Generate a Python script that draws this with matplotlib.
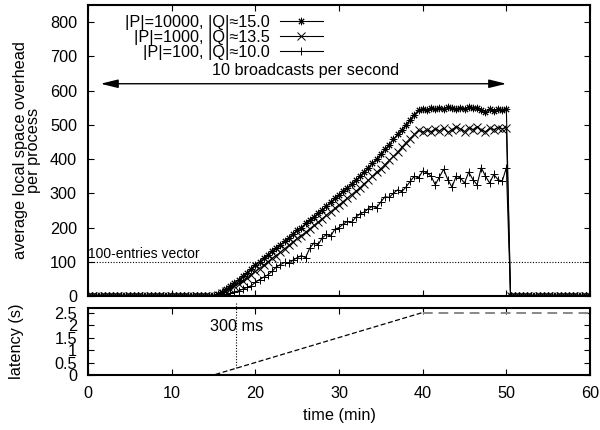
import numpy as np
import matplotlib as mpl
mpl.use('Agg')
import matplotlib.pyplot as plt  # noqa

plt.rcParams['font.family'] = ['Liberation Sans', 'DejaVu Sans']
plt.rcParams['font.size'] = 11.7

# time axis, one sample every 30 s
t = np.arange(0, 60.01, 0.5)

# space overhead per process (entries)
zeros_before = [0, 0, 0, 0, 0, 0, 0, 0, 0, 0, 0, 0, 0, 0, 0, 0, 0, 0, 0, 0,
                0, 0, 0, 0, 0, 0, 0, 0, 0, 0, 0]          # t = 0 .. 15
zeros_after = [0, 0, 0, 0, 0, 0, 0, 0, 0, 0, 0, 0, 0, 0, 0, 0, 0, 0, 0, 0]
# t = 15.5 .. 50
p10000 = [5, 12, 20, 28, 38, 48, 58, 68, 80, 92,
          100, 112, 120, 132, 140, 150, 160, 170, 182, 192,
          200, 212, 222, 232, 242, 252, 262, 275, 285, 295,
          306, 316, 328, 338, 350, 362, 375, 388, 400, 415,
          428, 442, 458, 472, 486, 500, 515, 530, 543,
          546, 544, 548, 545, 550, 546, 552, 548, 545, 550,
          547, 553, 548, 550, 544, 538, 545, 540, 546, 543, 545]
p1000 = [3, 8, 14, 20, 28, 36, 44, 52, 62, 72,
         80, 90, 100, 110, 118, 128, 138, 148, 158, 168,
         176, 186, 196, 206, 216, 226, 236, 246, 256, 266,
         276, 286, 296, 306, 316, 328, 338, 350, 362, 372,
         384, 396, 408, 420, 434, 448, 460, 472, 484,
         478, 485, 480, 488, 482, 490, 478, 485, 495, 488,
         480, 492, 486, 495, 485, 480, 490, 486, 492, 488, 492]
p100 = [0, 3, 5, 8, 12, 15, 20, 25, 30, 40,
        48, 55, 62, 72, 85, 92, 98, 95, 105, 112,
        118, 112, 140, 155, 150, 170, 180, 175, 195, 200,
        210, 218, 215, 230, 240, 245, 255, 262, 258, 275,
        290, 288, 300, 310, 305, 318, 335, 350, 345,
        365, 360, 350, 325, 348, 370, 340, 318, 350, 345,
        330, 362, 340, 325, 375, 350, 330, 355, 340, 335, 375]

series = [
    ('|P|=10000, |Q|≈15.0', p10000, (8, 2, 0)),
    ('|P|=1000, |Q|≈13.5', p1000, 'x'),
    ('|P|=100, |Q|≈10.0', p100, '+'),
]

# latency (s)
lat_t = [0, 15, 40]
lat_v = [0, 0, 2.5]
lat_flat_t = [40, 60]
lat_flat_v = [2.5, 2.5]

fig = plt.figure(figsize=(6, 4.3), dpi=100)
ax = fig.add_axes([0.1467, 0.3116, 0.8367, 0.6768])
ax2 = fig.add_axes([0.1467, 0.1279, 0.8367, 0.1558])

for label, vals, mk in series:
    y = zeros_before + vals + zeros_after
    ax.plot(t, y, color='black', lw=0.8, marker=mk, ms=5.3, mew=0.7,
            label=label)

ax.axhline(100, color='black', lw=0.8, ls=(0, (1, 1.5)))
ax.text(0.0, 103, '100-entries vector', fontsize=10, ha='left', va='bottom')

ax.annotate('', xy=(1.5, 620), xytext=(50, 620),
            arrowprops=dict(arrowstyle='<|-|>,head_length=0.9,head_width=0.22',
                            color='black', lw=1.0, shrinkA=0, shrinkB=0))
ax.text(26.0, 636, '10 broadcasts per second', ha='center', va='bottom')

ax.set_xlim(0, 60)
ax.set_ylim(0, 850)
ax.set_xticks(range(0, 61, 10))
ax.set_xticklabels([])
ax.set_yticks(range(0, 801, 100))
ax.set_ylabel('average local space overhead\nper process', labelpad=6,
              linespacing=0.9)
ax.legend(loc='upper right', bbox_to_anchor=(0.49, 1.005), frameon=False,
          markerfirst=False, handlelength=2.65, handletextpad=0.6,
          labelspacing=0.0, borderpad=0.2, fontsize=11.7)

ax2.plot(lat_t, lat_v, color='black', lw=0.9, ls=(0, (4, 2)))
ax2.plot(lat_flat_t, lat_flat_v, color='#888888', lw=1.4, ls=(0, (5, 3)))
ax2.plot([17.7, 17.7], [0.3, 2.92], color='black', lw=0.8,
         ls=(0, (1, 1.5)), clip_on=False)
ax2.text(17.8, 1.95, '300 ms', ha='center', va='center')
ax2.set_xlim(0, 60)
ax2.set_ylim(0, 2.68)
ax2.set_xticks(range(0, 61, 10))
ax2.set_yticks([0, 0.5, 1, 1.5, 2, 2.5])
ax2.set_yticklabels(['0', '0.5', '1', '1.5', '2', '2.5'])

for a in (ax, ax2):
    for s in a.spines.values():
        s.set_linewidth(1.5)
    a.tick_params(direction='in', top=True, right=True, length=4,
                  width=0.8, pad=8)
ax2.set_xlabel('time (min)', labelpad=5)
ax2.set_ylabel('latency (s)', labelpad=22)

fig.savefig('out.png', dpi=100)
